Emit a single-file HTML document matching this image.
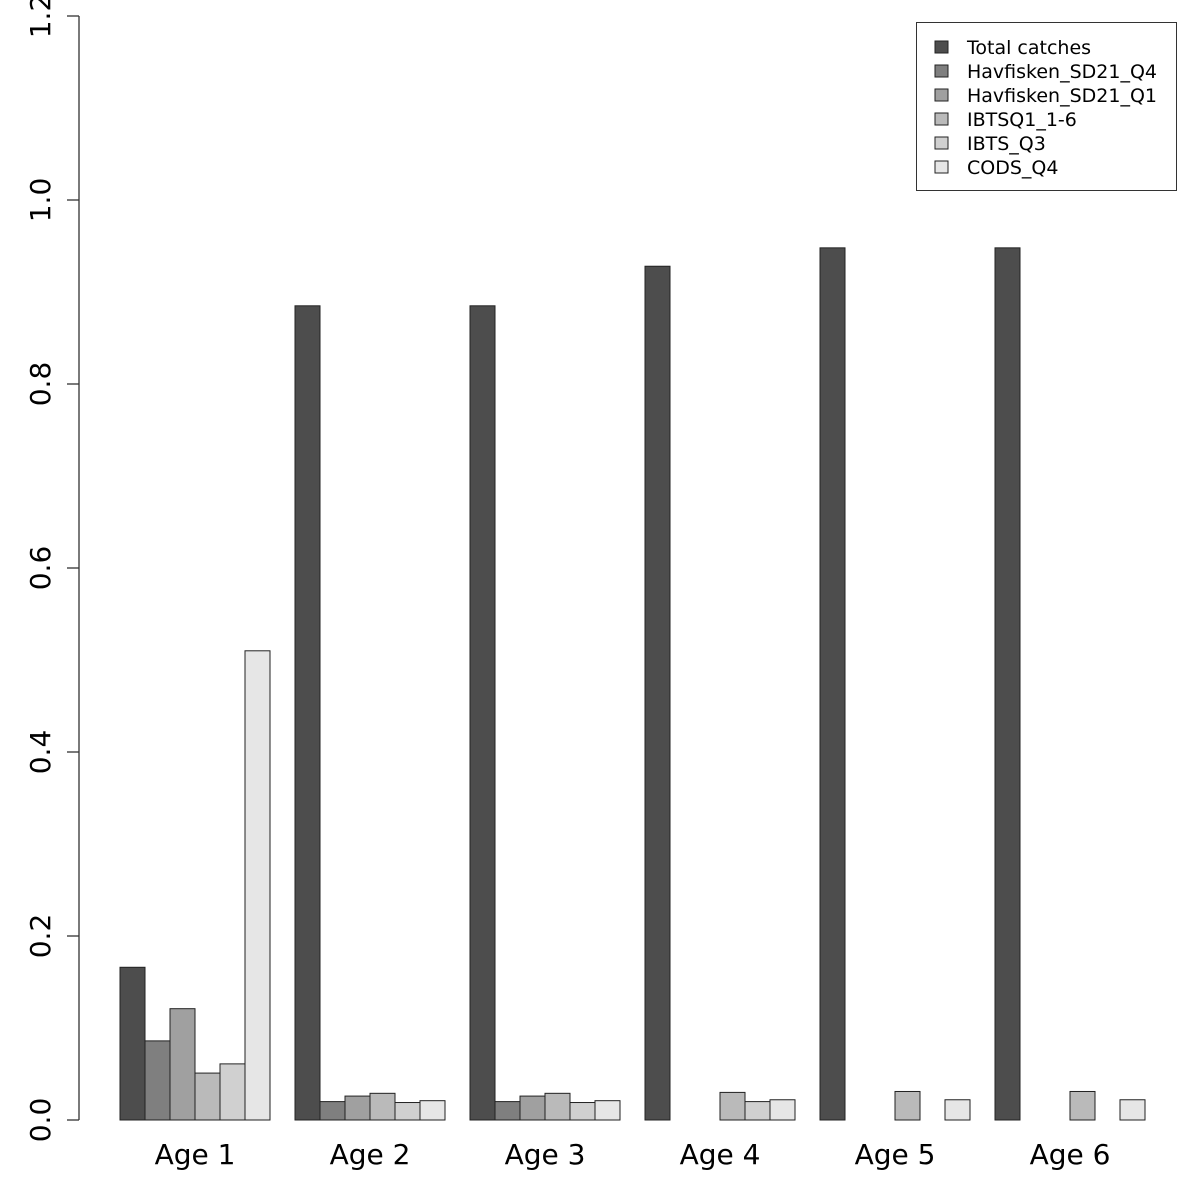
<!DOCTYPE html>
<html><head><meta charset="utf-8"><style>
html,body{margin:0;padding:0;background:#fff;}
svg{display:block;font-family:"DejaVu Sans","Liberation Sans",sans-serif;}
</style></head><body>
<svg id="chart" width="1200" height="1200" viewBox="0 0 1200 1200">
<g id="yaxis"></g>
<g id="bars"></g>
<g id="xlabels"></g>
<g id="legend"></g>
</svg>
<script>
const categories = ["Age 1","Age 2","Age 3","Age 4","Age 5","Age 6"];
const seriesNames = ["Total catches","Havfisken_SD21_Q4","Havfisken_SD21_Q1","IBTSQ1_1-6","IBTS_Q3","CODS_Q4"];
const totalCatches = [0.166,0.885,0.885,0.928,0.948,0.948];
const havQ4 = [0.086,0.020,0.020,0,0,0];
const havQ1 = [0.121,0.026,0.026,0,0,0];
const ibtsQ1 = [0.051,0.029,0.029,0.030,0.031,0.031];
const ibtsQ3 = [0.061,0.019,0.019,0.020,0,0];
const codsQ4 = [0.510,0.021,0.021,0.022,0.022,0.022];
const yTicks = ["0.0","0.2","0.4","0.6","0.8","1.0","1.2"];

const series = [totalCatches,havQ4,havQ1,ibtsQ1,ibtsQ3,codsQ4];
const colors = ["#4d4d4d","#7f7f7f","#a0a0a0","#bababa","#d0d0d0","#e6e6e6"];
const NS="http://www.w3.org/2000/svg";
const y0=1120, pxPerUnit=920;
function yScale(v){return y0 - v*pxPerUnit;}
const barW=25, groupStart=120, groupStep=175;
function xScale(gi,si){return groupStart+gi*groupStep+si*barW;}
function mk(tag,attrs,parent){const e=document.createElementNS(NS,tag);for(const k in attrs)e.setAttribute(k,attrs[k]);parent.appendChild(e);return e;}

const ya=document.getElementById('yaxis');
const axisLine=mk('line',{x1:79,x2:79,y1:yScale(0),y2:yScale(1.2),stroke:'#333','stroke-width':1.3},ya);


yTicks.forEach(t=>{
  const v=parseFloat(t), y=yScale(v);
  const tk=mk('line',{x1:67,x2:79,y1:y,y2:y,stroke:'#333','stroke-width':1.3},ya);
  
  
  const tx=mk('text',{x:0,y:0,'font-size':28,'text-anchor':'middle',fill:'#000',transform:`translate(50,${y}) rotate(-90)`},ya);
  tx.textContent=t;
  
  
});

const bg=document.getElementById('bars');
categories.forEach((c,gi)=>{
  series.forEach((s,si)=>{
    const v=s[gi]; if(!(v>0))return;
    const r=mk('rect',{x:xScale(gi,si),y:yScale(v),width:barW,height:yScale(0)-yScale(v),fill:colors[si],stroke:'#222','stroke-width':1},bg);
    
    
  });
  const lx=mk('text',{x:xScale(gi,0)+3*barW,y:1164,'font-size':28,'text-anchor':'middle',fill:'#000'},document.getElementById('xlabels'));
  lx.textContent=c;
  
  
});

const lg=document.getElementById('legend');
const box=mk('rect',{x:916.5,y:22.5,width:260,height:168,fill:'#fff',stroke:'#333','stroke-width':1},lg);


seriesNames.forEach((n,i)=>{
  const cy=47+i*24;
  const sw=mk('rect',{x:935,y:cy-6,width:13,height:12,fill:colors[i],stroke:'#222','stroke-width':1},lg);
  
  
  const t=mk('text',{x:967,y:cy+7,'font-size':19,fill:'#000'},lg);
  t.textContent=n;
  
  
});
</script>
</body></html>
